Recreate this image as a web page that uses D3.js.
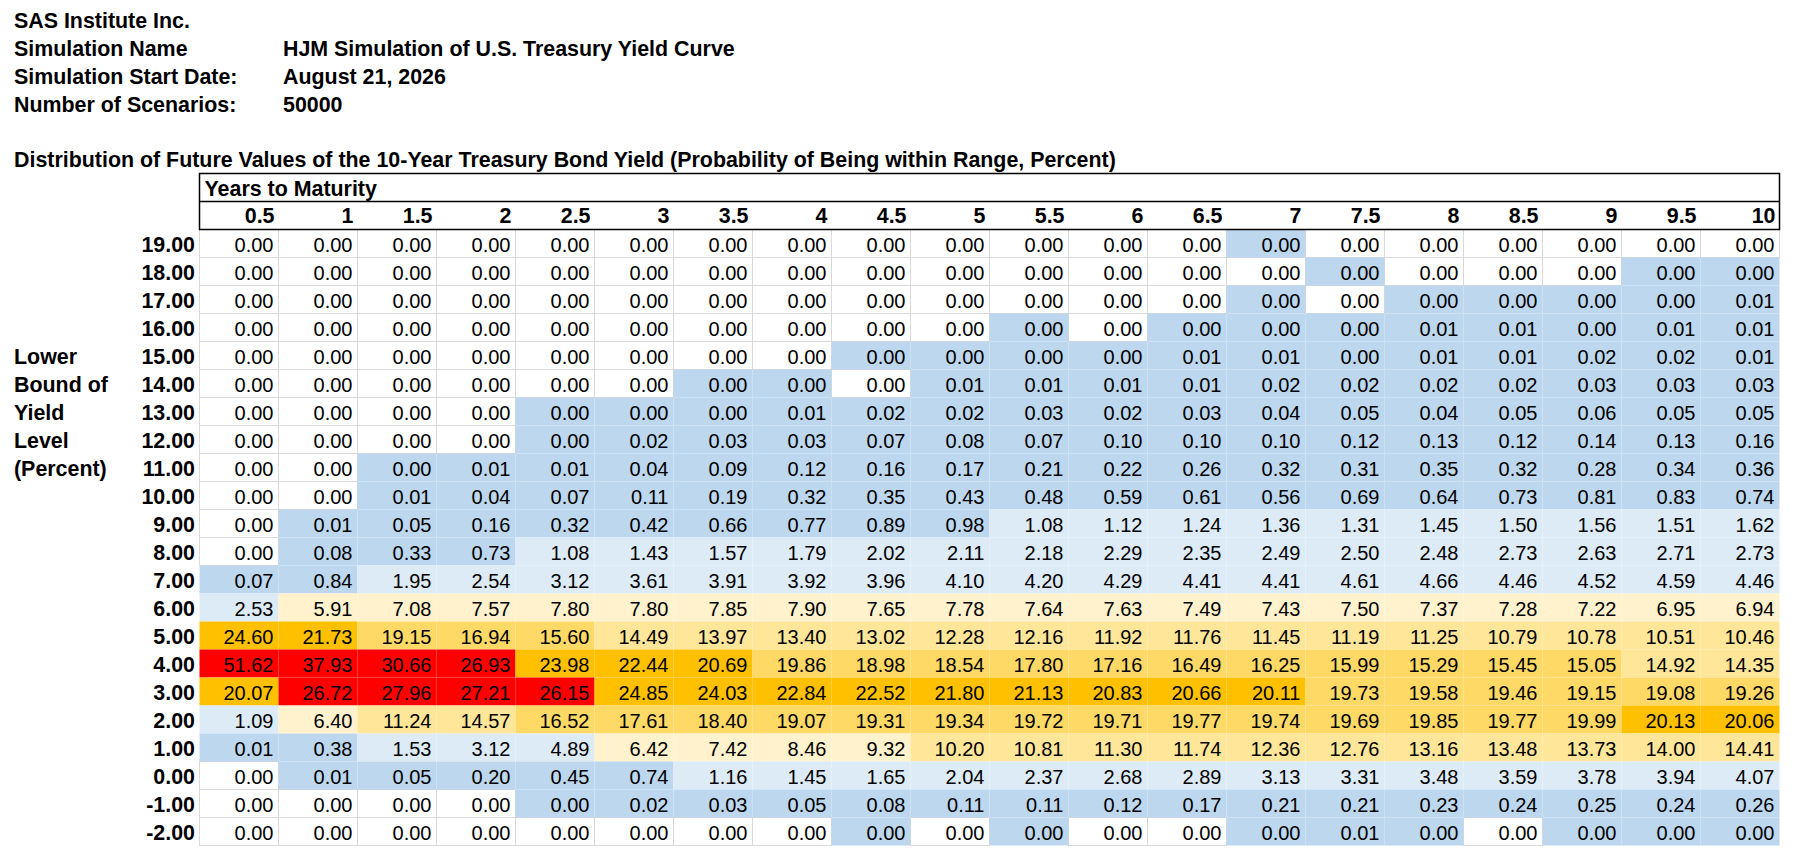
<!DOCTYPE html>
<html>
<head>
<meta charset="utf-8">
<script src="https://cdn.jsdelivr.net/npm/d3@7"></script>
<style>
  body { margin: 0; background: #fff; }
  text { font-family: "Liberation Sans", Arial, sans-serif; fill: #000; font-size: 20px; }
  .bold { font-weight: bold; font-size: 21.4px; }
</style>
</head>
<body>
<div id="container"></div>
<script>
// header block
const infoLabels = ["Simulation Name", "Simulation Start Date:", "Number of Scenarios:"];
const infoValues = ["HJM Simulation of U.S. Treasury Yield Curve", "August 21, 2026", "50000"];
const company = "SAS Institute Inc.";
const tableTitle = "Distribution of Future Values of the 10-Year Treasury Bond Yield (Probability of Being within Range, Percent)";
const sideLabel = ["Lower", "Bound of", "Yield", "Level", "(Percent)"];

// columns and rows
const maturities = ["0.5","1","1.5","2","2.5","3","3.5","4","4.5","5","5.5","6","6.5","7","7.5","8","8.5","9","9.5","10"];
const yieldBounds = ["19.00","18.00","17.00","16.00","15.00","14.00","13.00","12.00","11.00","10.00","9.00","8.00","7.00","6.00","5.00","4.00","3.00","2.00","1.00","0.00","-1.00","-2.00"];

// probability (percent), one row per lower bound; 0.001 = shown as 0.00 but not empty
const probability = [
  [0,0,0,0,0,0,0,0,0,0,0,0,0,0.001,0,0,0,0,0,0],
  [0,0,0,0,0,0,0,0,0,0,0,0,0,0,0.001,0,0,0,0.001,0.001],
  [0,0,0,0,0,0,0,0,0,0,0,0,0,0.001,0,0.001,0.001,0.001,0.001,0.01],
  [0,0,0,0,0,0,0,0,0,0,0.001,0,0.001,0.001,0.001,0.01,0.01,0.001,0.01,0.01],
  [0,0,0,0,0,0,0,0,0.001,0.001,0.001,0.001,0.01,0.01,0.001,0.01,0.01,0.02,0.02,0.01],
  [0,0,0,0,0,0,0.001,0.001,0,0.01,0.01,0.01,0.01,0.02,0.02,0.02,0.02,0.03,0.03,0.03],
  [0,0,0,0,0.001,0.001,0.001,0.01,0.02,0.02,0.03,0.02,0.03,0.04,0.05,0.04,0.05,0.06,0.05,0.05],
  [0,0,0,0,0.001,0.02,0.03,0.03,0.07,0.08,0.07,0.10,0.10,0.10,0.12,0.13,0.12,0.14,0.13,0.16],
  [0,0,0.001,0.01,0.01,0.04,0.09,0.12,0.16,0.17,0.21,0.22,0.26,0.32,0.31,0.35,0.32,0.28,0.34,0.36],
  [0,0,0.01,0.04,0.07,0.11,0.19,0.32,0.35,0.43,0.48,0.59,0.61,0.56,0.69,0.64,0.73,0.81,0.83,0.74],
  [0,0.01,0.05,0.16,0.32,0.42,0.66,0.77,0.89,0.98,1.08,1.12,1.24,1.36,1.31,1.45,1.50,1.56,1.51,1.62],
  [0,0.08,0.33,0.73,1.08,1.43,1.57,1.79,2.02,2.11,2.18,2.29,2.35,2.49,2.50,2.48,2.73,2.63,2.71,2.73],
  [0.07,0.84,1.95,2.54,3.12,3.61,3.91,3.92,3.96,4.10,4.20,4.29,4.41,4.41,4.61,4.66,4.46,4.52,4.59,4.46],
  [2.53,5.91,7.08,7.57,7.80,7.80,7.85,7.90,7.65,7.78,7.64,7.63,7.49,7.43,7.50,7.37,7.28,7.22,6.95,6.94],
  [24.60,21.73,19.15,16.94,15.60,14.49,13.97,13.40,13.02,12.28,12.16,11.92,11.76,11.45,11.19,11.25,10.79,10.78,10.51,10.46],
  [51.62,37.93,30.66,26.93,23.98,22.44,20.69,19.86,18.98,18.54,17.80,17.16,16.49,16.25,15.99,15.29,15.45,15.05,14.92,14.35],
  [20.07,26.72,27.96,27.21,26.15,24.85,24.03,22.84,22.52,21.80,21.13,20.83,20.66,20.11,19.73,19.58,19.46,19.15,19.08,19.26],
  [1.09,6.40,11.24,14.57,16.52,17.61,18.40,19.07,19.31,19.34,19.72,19.71,19.77,19.74,19.69,19.85,19.77,19.99,20.13,20.06],
  [0.01,0.38,1.53,3.12,4.89,6.42,7.42,8.46,9.32,10.20,10.81,11.30,11.74,12.36,12.76,13.16,13.48,13.73,14.00,14.41],
  [0,0.01,0.05,0.20,0.45,0.74,1.16,1.45,1.65,2.04,2.37,2.68,2.89,3.13,3.31,3.48,3.59,3.78,3.94,4.07],
  [0,0,0,0,0.001,0.02,0.03,0.05,0.08,0.11,0.11,0.12,0.17,0.21,0.21,0.23,0.24,0.25,0.24,0.26],
  [0,0,0,0,0,0,0,0,0.001,0,0.001,0,0,0.001,0.01,0.001,0,0.001,0.001,0.001]
];

const colourBreaks = [1, 5, 10, 15, 20, 25];
const colours = ["#bdd7ee", "#ddebf7", "#fff2cc", "#ffe699", "#ffd966", "#ffc000", "#ff0000"];

const W = 1798, H = 860;
const tableLeft = 199.5, tableRight = 1779.5;
const boxTop = 173.5, subLine = 201.5, bodyTop = 229.5, rowH = 28;

const svg = d3.select("#container").append("svg")
  .attr("width", W).attr("height", H);

const x = d3.scaleBand().domain(maturities).range([tableLeft, tableRight]);
const y = d3.scaleBand().domain(yieldBounds).range([bodyTop, bodyTop + rowH * yieldBounds.length]);
const fill = d3.scaleThreshold().domain(colourBreaks).range(colours);
const fmt = d3.format(".2f");

// top info lines
svg.append("text").attr("class", "bold").attr("x", 14).attr("y", 27.5).text(company);
infoLabels.forEach((l, i) => {
  const yy = 55.5 + i * 28;
  svg.append("text").attr("class", "bold").attr("x", 14).attr("y", yy).text(l);
  svg.append("text").attr("class", "bold").attr("x", 283).attr("y", yy).text(infoValues[i]);
});
svg.append("text").attr("class", "bold").attr("x", 14).attr("y", 166.5).text(tableTitle);

// cells
const cells = [];
probability.forEach((row, r) => row.forEach((v, c) => cells.push({row: yieldBounds[r], col: maturities[c], v})));
cells.sort((a, b) => (a.v === 0 ? 0 : 1) - (b.v === 0 ? 0 : 1));

svg.append("g").selectAll("rect")
  .data(cells)
  .join("rect")
  .attr("x", d => x(d.col))
  .attr("y", d => y(d.row))
  .attr("width", x.bandwidth())
  .attr("height", y.bandwidth())
  .attr("fill", d => d.v === 0 ? "#fff" : fill(d.v))
  .attr("stroke", d => d.v === 0 ? "#d9d9d9" : "none")
  .attr("stroke-width", 1);

svg.append("g").selectAll("text")
  .data(cells)
  .join("text")
  .attr("x", d => x(d.col) + x.bandwidth() - 5)
  .attr("y", d => y(d.row) + y.bandwidth() - 5.6)
  .attr("text-anchor", "end")
  .text(d => fmt(d.v));

// row labels
svg.append("g").selectAll("text")
  .data(yieldBounds)
  .join("text")
  .attr("class", "bold")
  .attr("x", 195)
  .attr("y", d => y(d) + y.bandwidth() - 5.6)
  .attr("text-anchor", "end")
  .text(d => d);

svg.append("g").selectAll("text")
  .data(sideLabel)
  .join("text")
  .attr("class", "bold")
  .attr("x", 14)
  .attr("y", (d, i) => y(yieldBounds[4 + i]) + y.bandwidth() - 5.6)
  .text(d => d);

// column header box
svg.append("rect")
  .attr("x", tableLeft).attr("y", boxTop)
  .attr("width", tableRight - tableLeft).attr("height", bodyTop - boxTop)
  .attr("fill", "none").attr("stroke", "#000").attr("stroke-width", 1.5);
svg.append("line")
  .attr("x1", tableLeft).attr("x2", tableRight)
  .attr("y1", subLine).attr("y2", subLine)
  .attr("stroke", "#000").attr("stroke-width", 1.5);
svg.append("text").attr("class", "bold").attr("x", tableLeft + 5).attr("y", 195.5).text("Years to Maturity");

svg.append("g").selectAll("text")
  .data(maturities)
  .join("text")
  .attr("class", "bold")
  .attr("x", d => x(d) + x.bandwidth() - 4)
  .attr("y", 222.7)
  .attr("text-anchor", "end")
  .text(d => d);
</script>
</body>
</html>
